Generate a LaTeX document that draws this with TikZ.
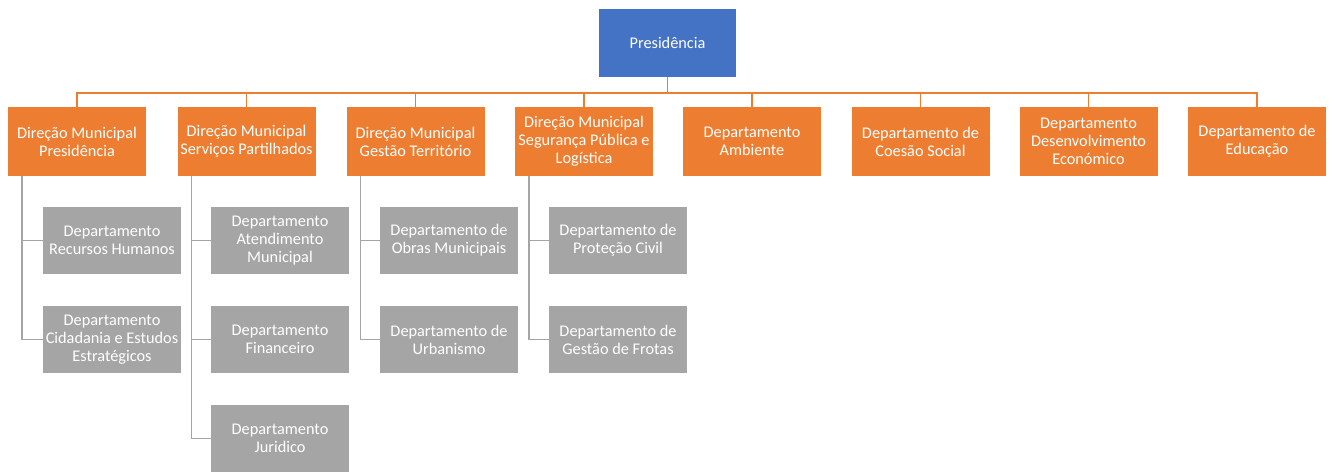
\documentclass[tikz,border=0pt]{standalone}
\usepackage{fontspec}
\setmainfont{Carlito}
\definecolor{presblue}{HTML}{4472C4}
\definecolor{orgorange}{HTML}{ED7D31}
\definecolor{orggray}{HTML}{A5A5A5}
\begin{document}
\begin{tikzpicture}[x=1pt,y=-1pt,
  box/.style={minimum width=138pt,minimum height=69pt,inner sep=0pt,align=center,
    text=white,font=\fontsize{16.3}{18}\selectfont,draw=none},
  pbox/.style={box,fill=presblue,minimum width=137pt,minimum height=68pt},
  obox/.style={box,fill=orgorange},
  gbox/.style={box,fill=orggray,minimum height=67pt},
  oline/.style={draw=orgorange,line width=1.5pt},
  gline/.style={draw=orggray,line width=1.5pt}]
\useasboundingbox (0,0) rectangle (1335,471);
\node[pbox] (p) at (667.5,43) {Presidência};
\node[obox] (d1) at (77,141.5) {Direção Municipal\\Presidência};
\node[obox] (d2) at (246.5,141.5) {Direção Municipal\\Serviços Partilhados};
\node[obox] (d3) at (415.5,141.5) {Direção Municipal\\Gestão Território};
\node[obox] (d4) at (584,141.5) {Direção Municipal\\Segurança Pública e\\Logística};
\node[obox] (d5) at (752,141.5) {Departamento\\Ambiente};
\node[obox] (d6) at (920.5,141.5) {Departamento de\\Coesão Social};
\node[obox] (d7) at (1088.5,141.5) {Departamento\\Desenvolvimento\\Económico};
\node[obox] (d8) at (1257,141.5) {Departamento de\\Educação};
\node[gbox] (a1) at (112,240.5) {Departamento\\Recursos Humanos};
\node[gbox] (a2) at (112,339.5) {Departamento\\Cidadania e Estudos\\Estratégicos};
\node[gbox] (b1) at (280,240.5) {Departamento\\Atendimento\\Municipal};
\node[gbox] (b2) at (280,339.5) {Departamento\\Financeiro};
\node[gbox] (b3) at (280,438.5) {Departamento\\Juridico};
\node[gbox] (c1) at (449,240.5) {Departamento de\\Obras Municipais};
\node[gbox] (c2) at (449,339.5) {Departamento de\\Urbanismo};
\node[gbox] (e1) at (618,240.5) {Departamento de\\Proteção Civil};
\node[gbox] (e2) at (618,339.5) {Departamento de\\Gestão de Frotas};
\foreach \d in {d1,d2,d3,d4,d5,d6,d7,d8}
  \draw[oline] (p.south) -- ++(0,16) -| (\d.north);
\foreach \d/\c in {d1/a1,d1/a2,d2/b1,d2/b2,d2/b3,d3/c1,d3/c2,d4/e1,d4/e2}
  \draw[gline] ([xshift=14pt]\d.south west) |- (\c.west);
\end{tikzpicture}
\end{document}
